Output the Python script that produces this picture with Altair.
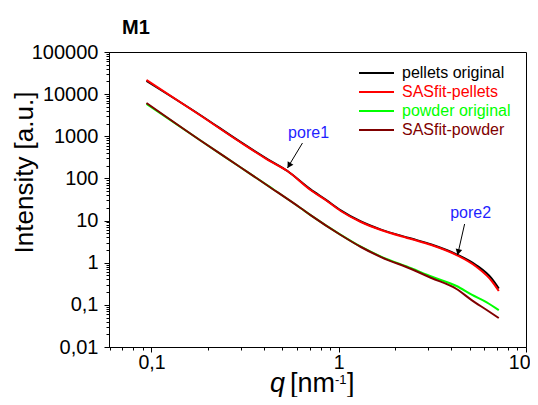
import altair as alt
import pandas as pd

# ---------------- data ----------------
q_pellets = [0.094, 0.181, 0.297, 0.42, 0.532, 0.707, 0.851, 1.025, 1.313, 1.682,
             2.438, 3.124, 4.256, 5.453, 6.564, 7.158]
I_pellets_original = [20500, 3250, 745, 280, 150, 55, 31.5, 17.5, 9.5, 6.1,
                      3.75, 2.7, 1.58, 0.86, 0.42, 0.245]
I_pellets_fit = [21660, 3199, 731, 273, 150, 53.1, 30.8, 16.9, 9.25, 5.97,
                 3.65, 2.63, 1.52, 0.791, 0.368, 0.213]

q_powder = [0.094, 0.181, 0.297, 0.42, 0.625, 0.707, 1.025, 1.313, 1.682, 2.438,
            3.124, 4.256, 5.125, 6.17, 7.158]
I_powder_original = [5900, 817, 187, 66.5, 19.9, 13.5, 4.6, 2.4, 1.40, 0.74,
                      0.47, 0.28, 0.175, 0.115, 0.075]
I_powder_fit = [6166, 817, 187, 66.1, 19.9, 13.5, 4.54, 2.36, 1.36, 0.710,
                0.434, 0.238, 0.130, 0.0755, 0.0487]

series_names = ["pellets original", "SASfit-pellets", "powder original", "SASfit-powder"]
series_colors = ["#000000", "#ff0000", "#00ff00", "#800000"]

# annotations (pore labels and arrows)
ann_text = ["pore1", "pore2"]
ann_text_q = [0.690, 5.06]
ann_text_I = [1197, 15.1]
arrow_q1 = [0.640, 4.70]
arrow_I1 = [692, 8.28]
arrow_q2 = [0.532, 4.31]
arrow_I2 = [177, 1.52]
head_q = [0.546, 4.36]
head_I = [213, 1.885]
head_angle = [211, 193]

# ---------------- tables ----------------
rows = []
for qs, vals, name in [(q_pellets, I_pellets_original, series_names[0]),
                       (q_pellets, I_pellets_fit, series_names[1]),
                       (q_powder, I_powder_original, series_names[2]),
                       (q_powder, I_powder_fit, series_names[3])]:
    for q, v in zip(qs, vals):
        rows.append({"q": q, "I": v, "series": name})
df = pd.DataFrame(rows)

ann_df = pd.DataFrame({"q": ann_text_q, "I": ann_text_I, "text": ann_text})
arrow_df = pd.DataFrame({"q": arrow_q1, "I": arrow_I1, "q2": arrow_q2, "I2": arrow_I2})
head_df = pd.DataFrame({"q": head_q, "I": head_I, "angle": head_angle})

x_ticks = [round(m * 10.0 ** e, 4) for e in (-2, -1, 0) for m in range(1, 10)
           if m * 10.0 ** e >= 0.06] + [10]
y_ticks = [round(m * 10.0 ** e, 4) for e in range(-2, 5) for m in range(1, 10)] + [100000]

FONT = "Liberation Sans"
MAJOR = "abs(log(datum.value)/LN10 - round(log(datum.value)/LN10)) < 1e-6"
LABEL = MAJOR + " ? replace(format(datum.value, ''), '.', ',') : ''"

xscale = alt.Scale(type="log", domain=[0.0593, 10], nice=False)
yscale = alt.Scale(type="log", domain=[0.01, 100000], nice=False)

x_axis = alt.Axis(values=x_ticks, labelExpr=LABEL, labelOverlap=False,
                  labelFlush=True, labelFlushOffset=4,
                  tickSize={"condition": {"test": MAJOR, "value": 5}, "value": 3},
                  grid=False, title=None, labelFont=FONT, labelFontSize=19.5,
                  labelColor="black", labelPadding=1, domainColor="black",
                  tickColor="black", domainWidth=1, tickWidth=1)
y_axis = alt.Axis(values=y_ticks, labelExpr=LABEL, labelOverlap=False, labelFlush=False,
                  tickSize={"condition": {"test": MAJOR, "value": 5}, "value": 3},
                  grid=False, title="Intensity [a.u.]", titleFont=FONT, titleFontSize=26,
                  titleFontWeight="normal", titleColor="black", titleAngle=270,
                  titleX=-77, titleY=120, titleAlign="center", titleBaseline="alphabetic",
                  labelFont=FONT, labelFontSize=20, labelColor="black", labelPadding=6,
                  domainColor="black", tickColor="black", domainWidth=1, tickWidth=1)

X = alt.X("q:Q", scale=xscale, axis=x_axis)
Y = alt.Y("I:Q", scale=yscale, axis=y_axis)

color = alt.Color("series:N",
                  scale=alt.Scale(domain=series_names, range=series_colors),
                  legend=alt.Legend(title=None, orient="none", legendX=249, legendY=13,
                                    symbolType="stroke", symbolSize=1225,
                                    symbolStrokeWidth=2, labelFont=FONT,
                                    labelFontSize=16, labelOffset=7, rowPadding=3,
                                    clipHeight=16, padding=0,
                                    labelColor={"expr": "scale('color', datum.value)"}))

base = alt.Chart(df)
line_layers = []
for name in series_names:
    line_layers.append(
        base.transform_filter(alt.datum.series == name)
        .mark_line(strokeWidth=2, interpolate="monotone")
        .encode(x=X, y=Y, color=color)
    )

arrows = alt.Chart(arrow_df).mark_rule(color="black", strokeWidth=1).encode(
    x=X, y=Y, x2="q2:Q", y2="I2:Q")

heads = alt.Chart(head_df).mark_point(shape="triangle", filled=True, size=45,
                                      color="black", opacity=1).encode(
    x=X, y=Y, angle=alt.Angle("angle:Q", scale=None))

labels = alt.Chart(ann_df).mark_text(font=FONT, fontSize=16, color="#1f1fff",
                                     align="center", baseline="middle").encode(
    x=X, y=Y, text="text:N")

def txt(s, x, y, size=27, **kw):
    return alt.Chart(pd.DataFrame({"t": [s]})).mark_text(
        font=FONT, fontSize=size, color="black", align="left",
        baseline="alphabetic", **kw).encode(
        x=alt.value(x), y=alt.value(y), text="t:N")

title_m1 = txt("M1", 13, -18, size=20, fontWeight="bold")
xt_q = txt("q", 161, 339.5, fontStyle="italic")
xt_a = txt("[nm", 181, 339.5)
xt_s = txt("-1", 226, 332, size=13)
xt_b = txt("]", 238, 339.5)

chart = alt.layer(*line_layers, arrows, heads, labels, title_m1, xt_q, xt_a, xt_s, xt_b).properties(
    width=417, height=295,
    autosize=alt.AutoSizeParams(type="none"),
    padding={"left": 101, "top": 44, "right": 4, "bottom": 50},
).configure_view(stroke="black", strokeWidth=1)

chart.save("out.html", embed_options={"renderer": "svg", "actions": False})
